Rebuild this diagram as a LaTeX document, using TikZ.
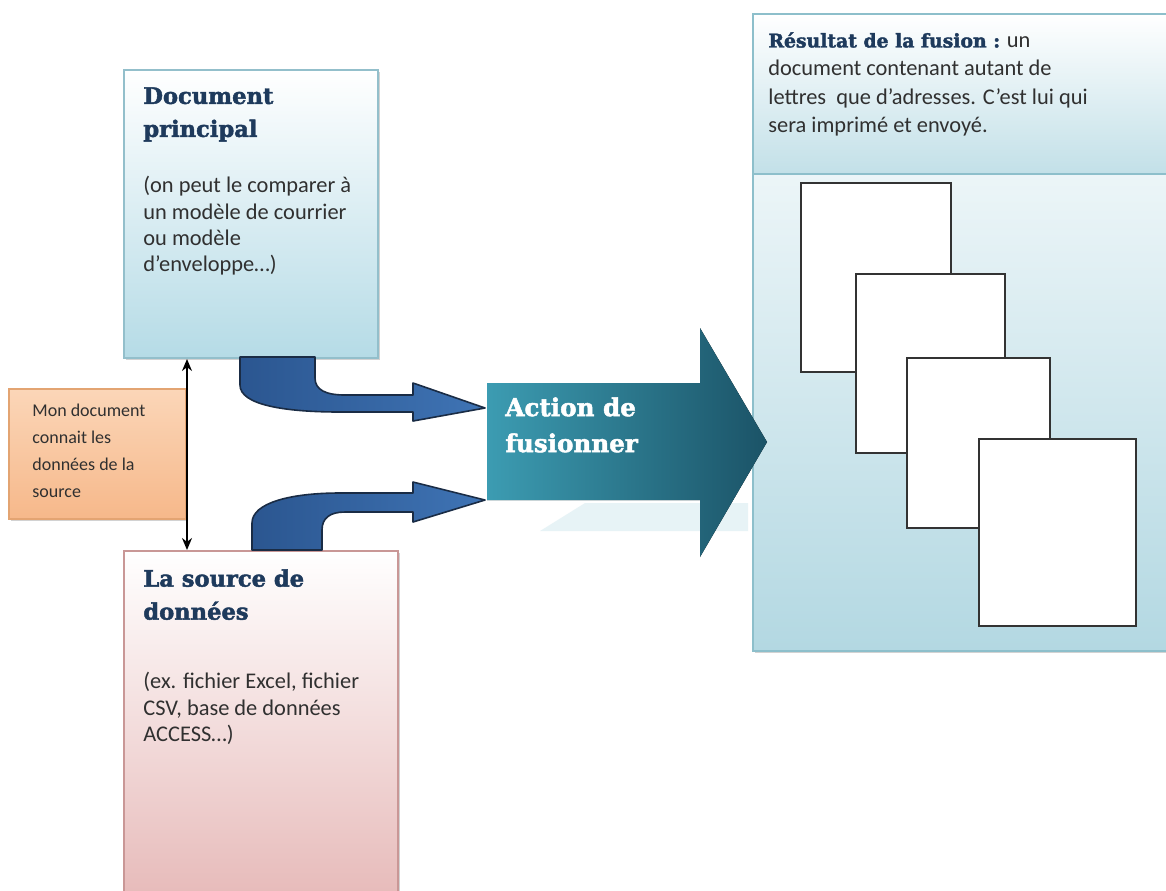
\documentclass[tikz,border=0pt]{standalone}
\usepackage{fontspec}
\setmainfont{Carlito}
\newfontfamily\headfont{DejaVu Serif}[BoldFeatures={FakeBold=2}]
\usetikzlibrary{positioning,calc,shadows,arrows.meta}

\definecolor{docblue}{HTML}{B5DBE6}
\definecolor{docedge}{HTML}{93BFCB}
\definecolor{srcpink}{HTML}{E3B0AF}
\definecolor{srcedge}{HTML}{C99796}
\definecolor{notetop}{HTML}{FBD6B8}
\definecolor{notebot}{HTML}{F6B88A}
\definecolor{noteedge}{HTML}{E3A472}
\definecolor{resblue}{HTML}{B3D8E2}
\definecolor{resedge}{HTML}{8DBFCB}
\definecolor{acttop}{HTML}{3C9CB2}
\definecolor{actbot}{HTML}{1B5367}
\definecolor{bentleft}{HTML}{2B5690}
\definecolor{bentright}{HTML}{3F74B5}
\definecolor{bentedge}{HTML}{1A2C45}
\definecolor{headnavy}{HTML}{1E3A5C}
\definecolor{bodygray}{HTML}{303030}
\definecolor{pageedge}{HTML}{333333}

\tikzset{
  box/.style={draw, line width=1pt, anchor=north west, inner sep=0pt,
    drop shadow={shadow xshift=1.2pt, shadow yshift=-1.2pt, opacity=.35}},
  docbox/.style={box, draw=docedge, top color=white, bottom color=docblue},
  srcbox/.style={box, draw=srcedge, top color=white, bottom color=srcpink},
  notebox/.style={box, draw=noteedge, top color=notetop, bottom color=notebot},
  resbox/.style={box, draw=resedge, top color=white, bottom color=resblue},
  reshead/.style={draw=resedge, line width=1pt, anchor=north west, inner sep=0pt,
    top color=white, bottom color=resblue!80},
  heading/.style={anchor=north west, inner sep=0pt, align=left, text=headnavy,
    font=\headfont\bfseries\fontsize{11.3}{16.5}\selectfont},
  bodytext/.style={anchor=north west, inner sep=0pt, align=left, text=bodygray,
    font=\fontsize{11.2}{13.2}\selectfont},
  notetext/.style={bodytext, font=\fontsize{9}{13.5}\selectfont},
  restext/.style={bodytext, font=\fontsize{11.2}{14.2}\selectfont},
  acttext/.style={heading, text=white, font=\headfont\bfseries\fontsize{12.3}{18}\selectfont},
  page/.style={draw=pageedge, fill=white, line width=1pt, anchor=north west, inner sep=0pt},
  bent/.style={left color=bentleft, right color=bentright, draw=bentedge, line width=.8pt, line join=round},
  biarrow/.style={{Stealth[length=6pt,width=5pt]}-{Stealth[length=6pt,width=5pt]}, line width=.8pt, black},
}

\begin{document}
\begin{tikzpicture}[x=0.5pt,y=-0.5pt]
  \useasboundingbox (0,0) rectangle (1166,890);
  \fill[white] (0,0) rectangle (1166,890);
  \clip (0,0) rectangle (1166,890);

  % left column
  \node[docbox, minimum width=127pt, minimum height=144pt] (doc) at (123,69) {};
  \node[heading] (doctitle) at ($(doc.north west)+(20,18)$) {Document\\principal};
  \node[bodytext] (docnote) at ($(doc.north west)+(20,107)$)
    {(on peut le comparer à\\un modèle de courrier\\ou modèle\\d’enveloppe…)};

  \node[srcbox, minimum width=137pt, minimum height=200pt] (src) at (123,550) {};
  \node[heading] (srctitle) at ($(src.north west)+(20,19)$) {La source de\\données};
  \node[bodytext] (srcnote) at ($(src.north west)+(20,122)$)
    {(ex. fichier Excel, fichier\\CSV, base de données\\ACCESS…)};

  \node[notebox, minimum width=88.5pt, minimum height=65pt] (note) at (8,388) {};
  \node[notetext] (notelabel) at ($(note.north west)+(24,16)$)
    {Mon document\\connait les\\données de la\\source};

  \draw[biarrow] ($(doc.south west)+(64,0)$) -- ($(src.north west)+(64,0)$);

  % result
  \node[resbox, minimum width=217pt, minimum height=318.5pt] (res) at (752,13) {};
  \node[reshead, minimum width=217pt, minimum height=80pt] (reshd) at (res.north west) {};
  \node[restext] (reslabel) at ($(res.north west)+(16,19)$)
    {{\headfont\bfseries\fontsize{9.4}{14.2}\selectfont\color{headnavy}Résultat de la fusion :} un\\
     document contenant autant de\\lettres\ \ que d’adresses. C’est lui qui\\sera imprimé et envoyé.};

  \foreach \n/\x/\y/\w/\h in {1/800/182/75/94.5, 2/855/273/74.5/89.5,
                               3/906/357/71.5/85, 4/978/438/78.5/93.5}
    \node[page, minimum width=\w pt, minimum height=\h pt] (page\n) at (\x,\y) {};

  % merge arrow
  \fill[resblue!60, opacity=.5] (540,531) -- (585,503) -- (748,503) -- (748,531) -- cycle;
  \fill[left color=acttop, right color=actbot]
    (487,383) coordinate (act) -- (700,383) -- (700,328) -- (767,442) coordinate (acttip)
    -- (700,557) -- (700,500) -- (487,500) -- cycle;
  \node[acttext] (acttitle) at ($(act)+(18,14)$) {Action de\\fusionner};

  % bent arrows
  \filldraw[bent] (240,357) -- (240,385) .. controls (240,405) and (285,412) .. (340,412)
    -- (413,412) -- (413,421) -- ($(act)+(-2,25)$) -- (413,383) -- (413,395) -- (345,395)
    .. controls (326,395) and (315,390) .. (315,378) -- (315,357) -- cycle;
  \filldraw[bent] (252,550) -- (252,523) .. controls (252,503) and (290,493) .. (340,493)
    -- (413,493) -- (413,482) -- ($(act)+(-2,117)$) -- (413,522) -- (413,512) -- (345,512)
    .. controls (330,512) and (322,518) .. (322,530) -- (322,550) -- cycle;
\end{tikzpicture}
\end{document}
